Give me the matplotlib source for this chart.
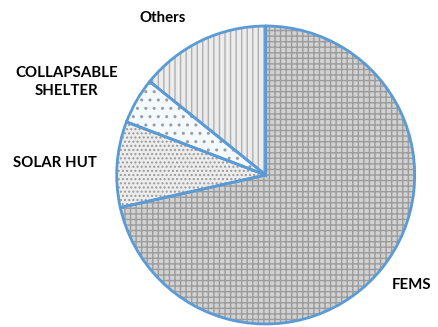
import matplotlib
matplotlib.use("Agg")
import matplotlib.pyplot as plt

categories = ["FEMS", "SOLAR HUT", "COLLAPSABLE\nSHELTER", "Others"]
values = [71.5, 9.3, 5.0, 14.2]

face_colors = ["#d2d2d2", "#ededed", "#f4f9fd", "#ececec"]
hatch_colors = ["#9c9c9c", "#9a9a9a", "#9c9c9c", "#b0b0b0"]
hatches = ["+++", "....", "..", "|||"]

W, H = 439, 327
cx, cy, R = 265.7, 175.0, 149.0
fig = plt.figure(figsize=(W / 100, H / 100), dpi=100)
ax = fig.add_axes([0, 0, 1, 1])

# hatch layer
wedges, _ = ax.pie(values, startangle=90, counterclock=False, radius=1,
                   colors=face_colors,
                   wedgeprops=dict(linewidth=0))
for w, h, hc in zip(wedges, hatches, hatch_colors):
    w.set_hatch(h)
    w.set_edgecolor(hc)
    w.set_linewidth(0)

# outline layer
wedges2, _ = ax.pie(values, startangle=90, counterclock=False, radius=1,
                    wedgeprops=dict(fill=False, edgecolor="#5b9bd5", linewidth=2))

ax.set_xlim(-cx / R, (W - cx) / R)
ax.set_ylim(-(H - cy) / R, cy / R)
ax.set_aspect("equal")
ax.axis("off")

def px(x, y):
    return (x - cx) / R, (cy - y) / R

font = dict(family=["Lato", "DejaVu Sans"], fontsize=10.8, fontweight="bold",
            color="black", ha="center", va="center")
label_pos = {"FEMS": (412, 285), "SOLAR HUT": (55, 163),
             "COLLAPSABLE\nSHELTER": (67, 82), "Others": (163, 18)}
for cat in categories:
    x, y = px(*label_pos[cat])
    ax.text(x, y, cat, linespacing=1.45, **font)

fig.savefig("out.png", dpi=100)
